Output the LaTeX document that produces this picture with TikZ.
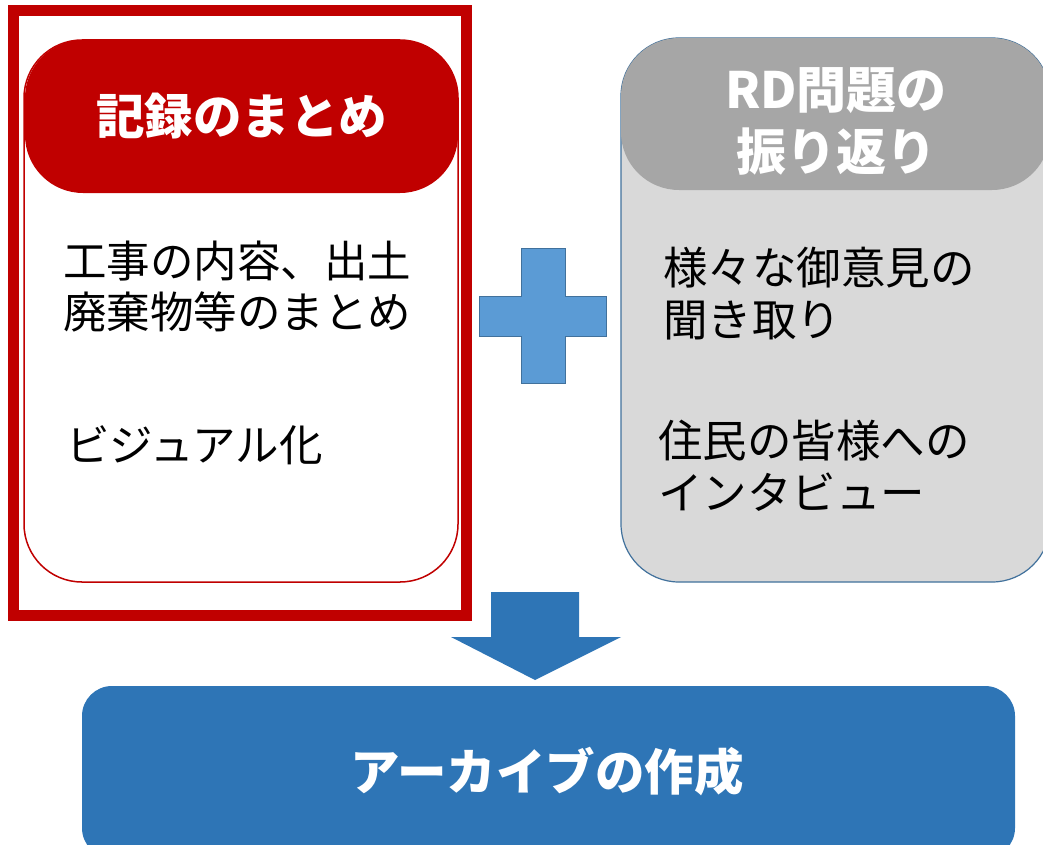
\documentclass[tikz,border=0pt]{standalone}
\usepackage{fontspec}
\newfontfamily\jpfont{Noto Sans CJK JP}
\usepackage{tikz}
\definecolor{recordred}{HTML}{C00000}
\definecolor{headgrey}{HTML}{A6A6A6}
\definecolor{bodygrey}{HTML}{D9D9D9}
\definecolor{edgeblue}{HTML}{41719C}
\definecolor{plusblue}{HTML}{5B9BD5}
\definecolor{archblue}{HTML}{2E75B6}
\tikzset{ %inner sep = 0.5mm,
  {panel/.style} ={rectangle, rounded corners=58pt, inner sep=0},
  {record body/.style} ={panel, draw=recordred, line width=1.5pt, fill=white},
  {record head/.style} ={panel, fill=recordred},
  {review body/.style} ={panel, draw=edgeblue, line width=1.2pt, fill=bodygrey},
  {review head/.style} ={panel, fill=headgrey},
  {frame/.style} ={draw=recordred, line width=11pt},
  {title text/.style} ={text=white, font=\jpfont\bfseries\fontsize{48.5}{60}\selectfont,
                align=center, inner sep=0},
  {item text/.style} ={anchor=west, align=left, inner sep=0,
                font=\jpfont\fontsize{43.5}{51}\selectfont},
  {block/.style} ={draw=edgeblue, line width=1pt, fill=plusblue},
}

\begin{document}
\begin{tikzpicture}[x=1pt,y=-1pt]
\useasboundingbox (0,0) rectangle (1043,845);
% left: records
\draw[frame] (13.5,10.5) rectangle (466.5,615.5);
\node[record body, minimum width=434pt, minimum height=542pt] (recbody) at (241,311) {};
\node[record head, minimum width=433pt, minimum height=153pt] (rechead) at (241.5,116.5) {};
\node[title text] (rectitle) at (rechead) {記録のまとめ};
\node[item text] (recitem1) at (63,287) {工事の内容、出土\\廃棄物等のまとめ};
\node[item text] (recitem2) at (66,445) {ビジュアル化};
% right: review
\node[review body, minimum width=429pt, minimum height=544pt] (revbody) at (835.5,310) {};
\node[review head, minimum width=429pt, minimum height=152pt] (revhead) at (835.5,114) {};
\node[title text, font=\jpfont\bfseries\fontsize{50}{62}\selectfont] (revtitle) at (836,121) {RD問題の\\振り返り};
\node[item text, font=\jpfont\fontsize{44.5}{52}\selectfont] (revitem1) at (663,294) {様々な御意見の\\聞き取り};
\node[item text, font=\jpfont\fontsize{44.5}{52}\selectfont] (revitem2) at (658,466) {住民の皆様への\\インタビュー};
% plus and arrow
\draw[block] (521,248) -- (565,248) -- (565,296) -- (606,296) -- (606,336)
  -- (565,336) -- (565,383) -- (521,383) -- (521,336) -- (479,336)
  -- (479,296) -- (521,296) -- cycle;
\fill[archblue] (491,592) -- (579,592) -- (579,637) -- (621,637)
  -- (535,680) -- (451,637) -- (491,637) -- cycle;
% bottom: archive
\node[panel, rounded corners=30pt, fill=archblue, minimum width=933pt,
  minimum height=172pt] (archive) at (548.5,772) {};
\node[title text, font=\jpfont\bfseries\fontsize{49.5}{60}\selectfont] (archtitle) at (547,772) {アーカイブの作成};
\end{tikzpicture}
\end{document}
